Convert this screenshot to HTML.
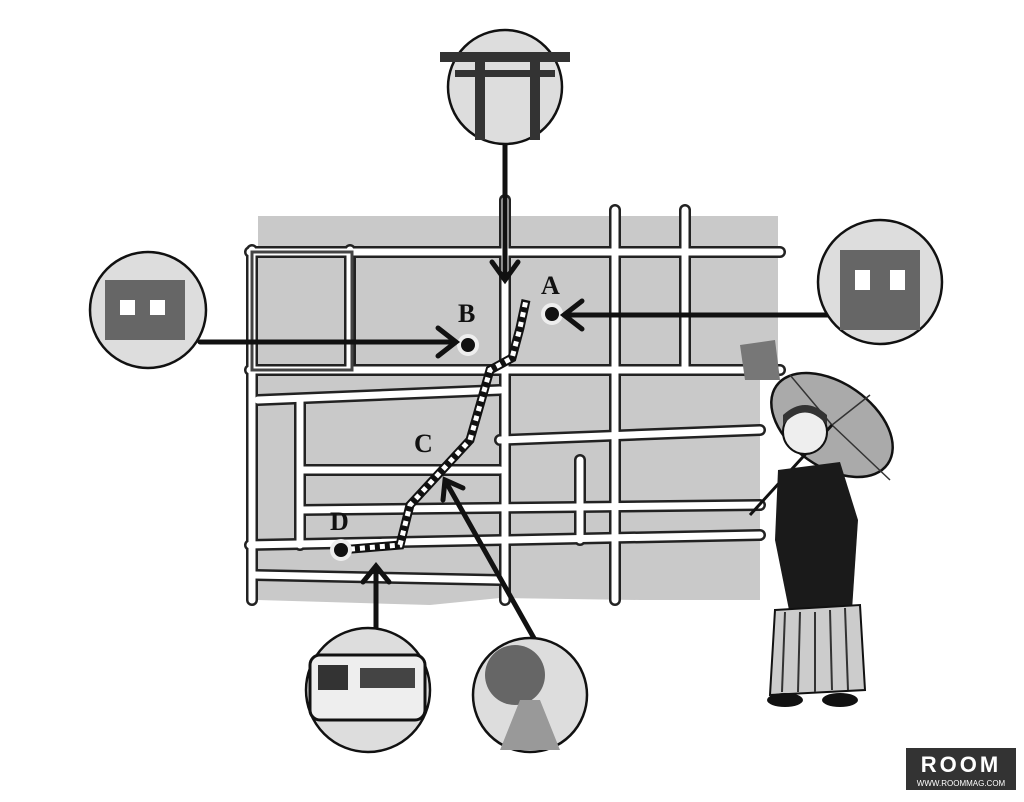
<!DOCTYPE html>
<html><head><meta charset="utf-8"><style>
html,body{margin:0;padding:0;background:#fff;}
svg{display:block;}
</style></head><body>
<svg width="1024" height="802" viewBox="0 0 1024 802" xmlns="http://www.w3.org/2000/svg">
<rect width="1024" height="802" fill="#fff"/>
<polygon points="258,216 778,216 778,380 760,380 760,600 640,600 500,598 430,605 258,600" fill="#c9c9c9"/>
<g stroke="#222" stroke-width="12" fill="none" stroke-linecap="round">
<line x1="250" y1="252" x2="780" y2="252"/>
<line x1="250" y1="370" x2="780" y2="370"/>
<line x1="250" y1="545" x2="760" y2="535"/>
<line x1="300" y1="470" x2="500" y2="470"/>
<line x1="300" y1="510" x2="760" y2="505"/>
<line x1="258" y1="400" x2="500" y2="390"/>
<line x1="252" y1="250" x2="252" y2="600"/>
<line x1="350" y1="250" x2="350" y2="370"/>
<line x1="505" y1="200" x2="505" y2="600"/>
<line x1="615" y1="210" x2="615" y2="600"/>
<line x1="685" y1="210" x2="685" y2="370"/>
<line x1="300" y1="400" x2="300" y2="545"/>
<line x1="500" y1="440" x2="760" y2="430"/>
<line x1="580" y1="460" x2="580" y2="540"/>
<line x1="255" y1="575" x2="500" y2="580"/>
</g>
<g stroke="#fff" stroke-width="7" fill="none" stroke-linecap="round">
<line x1="250" y1="252" x2="780" y2="252"/>
<line x1="250" y1="370" x2="780" y2="370"/>
<line x1="250" y1="545" x2="760" y2="535"/>
<line x1="300" y1="470" x2="500" y2="470"/>
<line x1="300" y1="510" x2="760" y2="505"/>
<line x1="258" y1="400" x2="500" y2="390"/>
<line x1="252" y1="250" x2="252" y2="600"/>
<line x1="350" y1="250" x2="350" y2="370"/>
<line x1="505" y1="200" x2="505" y2="600"/>
<line x1="615" y1="210" x2="615" y2="600"/>
<line x1="685" y1="210" x2="685" y2="370"/>
<line x1="300" y1="400" x2="300" y2="545"/>
<line x1="500" y1="440" x2="760" y2="430"/>
<line x1="580" y1="460" x2="580" y2="540"/>
<line x1="255" y1="575" x2="500" y2="580"/>
</g>
<rect x="252" y="252" width="100" height="118" fill="none" stroke="#444" stroke-width="3"/>
<polygon points="740,345 775,340 780,380 745,380" fill="#777"/>
<polyline points="340,550 400,545 410,505 470,440 490,370 512,358 520,328 526,300" fill="none" stroke="#111" stroke-width="9"/>
<polyline points="340,550 400,545 410,505 470,440 490,370 512,358 520,328 526,300" fill="none" stroke="#fff" stroke-width="5" stroke-dasharray="5 5"/>
<g fill="#111" stroke="#eee" stroke-width="4">
<circle cx="552" cy="314" r="9"/><circle cx="468" cy="345" r="9"/><circle cx="341" cy="550" r="9"/>
</g>
<g font-family="Liberation Serif, serif" font-weight="bold" font-size="26" fill="#111">
<text x="541" y="294">A</text><text x="458" y="322">B</text><text x="414" y="452">C</text><text x="330" y="530">D</text>
</g>
<g stroke="#111" stroke-width="5" fill="none" stroke-linecap="round">
<line x1="505" y1="140" x2="505" y2="278"/><polyline points="492,262 505,280 518,262"/>
<line x1="200" y1="342" x2="455" y2="342"/><polyline points="438,328 456,342 438,356"/>
<line x1="830" y1="315" x2="565" y2="315"/><polyline points="582,301 564,315 582,329"/>
<line x1="376" y1="630" x2="376" y2="567"/><polyline points="363,582 376,566 389,582"/>
<line x1="535" y1="640" x2="446" y2="482"/><polyline points="443,500 445,480 463,488"/>
</g>
<g stroke="#111" stroke-width="2.5">
<circle cx="505" cy="87" r="57" fill="#ddd"/>
<circle cx="148" cy="310" r="58" fill="#ddd"/>
<circle cx="880" cy="282" r="62" fill="#ddd"/>
<circle cx="368" cy="690" r="62" fill="#ddd"/>
<circle cx="530" cy="695" r="57" fill="#ddd"/>
</g>
<g fill="#333"><rect x="440" y="52" width="130" height="10"/><rect x="455" y="70" width="100" height="7"/><rect x="475" y="60" width="10" height="80"/><rect x="530" y="60" width="10" height="80"/></g>
<g fill="#666"><rect x="105" y="280" width="80" height="60"/><rect x="840" y="250" width="80" height="80"/></g>
<g fill="#fff"><rect x="120" y="300" width="15" height="15"/><rect x="150" y="300" width="15" height="15"/><rect x="855" y="270" width="15" height="20"/><rect x="890" y="270" width="15" height="20"/></g>
<rect x="310" y="655" width="115" height="65" rx="10" fill="#eee" stroke="#111" stroke-width="3"/>
<rect x="318" y="665" width="30" height="25" fill="#333"/><rect x="360" y="668" width="55" height="20" fill="#444"/>
<circle cx="515" cy="675" r="30" fill="#666"/>
<polygon points="500,750 520,700 540,700 560,750" fill="#999"/>
<!-- umbrella -->
<ellipse cx="832" cy="425" rx="68" ry="42" transform="rotate(35 832 425)" fill="#aaa" stroke="#111" stroke-width="2.5"/>
<g stroke="#333" stroke-width="1.5"><line x1="832" y1="425" x2="790" y2="375"/><line x1="832" y1="425" x2="870" y2="395"/><line x1="832" y1="425" x2="890" y2="480"/><line x1="832" y1="425" x2="800" y2="460"/></g>
<line x1="832" y1="425" x2="750" y2="515" stroke="#111" stroke-width="3"/>
<circle cx="805" cy="432" r="22" fill="#eee" stroke="#111" stroke-width="2"/>
<path d="M783,425 Q805,400 827,425 L827,415 Q805,395 783,415 Z" fill="#333"/>
<polygon points="778,470 840,462 858,520 852,610 790,615 775,540" fill="#1a1a1a"/>
<polygon points="775,610 860,605 865,690 770,695" fill="#ccc" stroke="#111" stroke-width="2"/>
<g stroke="#333" stroke-width="2"><line x1="785" y1="612" x2="782" y2="692"/><line x1="800" y1="612" x2="798" y2="692"/><line x1="815" y1="612" x2="815" y2="692"/><line x1="830" y1="610" x2="832" y2="690"/><line x1="845" y1="608" x2="848" y2="690"/></g>
<ellipse cx="785" cy="700" rx="18" ry="7" fill="#111"/><ellipse cx="840" cy="700" rx="18" ry="7" fill="#111"/>
<rect x="906" y="748" width="110" height="42" fill="#333"/>
<text x="961" y="772" text-anchor="middle" font-family="Liberation Sans, sans-serif" font-size="22" font-weight="bold" fill="#fff" letter-spacing="3">ROOM</text>
<text x="961" y="786" text-anchor="middle" font-family="Liberation Sans, sans-serif" font-size="8" fill="#fff">WWW.ROOMMAG.COM</text>
</svg>
</body></html>
